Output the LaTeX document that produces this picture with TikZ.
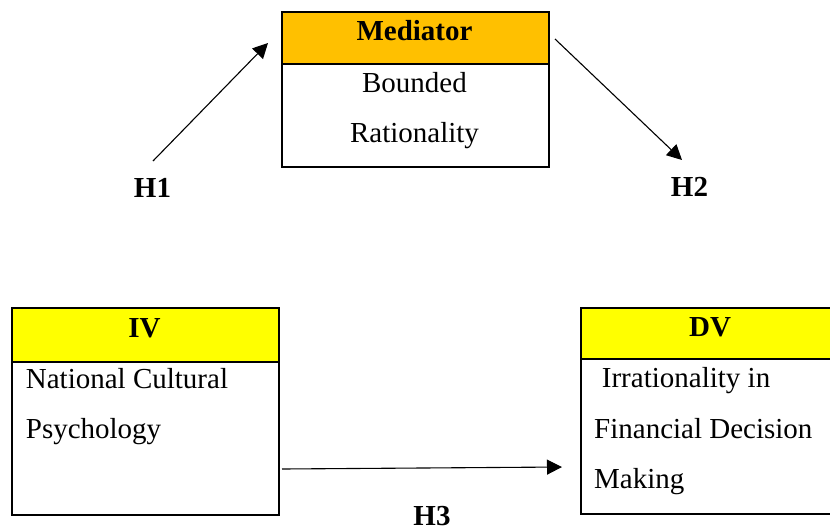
\documentclass[tikz,border=0pt]{standalone}
\usepackage{fontspec}
\setmainfont{Liberation Serif}
\usetikzlibrary{arrows.meta}
\definecolor{medorange}{HTML}{FFC000}
\definecolor{hdryellow}{HTML}{FFFF00}
\begin{document}
\begin{tikzpicture}[x=1pt,y=-1pt,
  box/.style={draw,line width=1.6pt,anchor=north west,inner sep=0pt},
  txt/.style={inner sep=0pt,font=\fontsize{29}{35}\selectfont},
  htxt/.style={inner sep=0pt,anchor=base,font=\fontsize{29}{35}\selectfont\bfseries},
  conn/.style={line width=1.1pt,-{Triangle[length=15pt,width=15pt]}}
]
\useasboundingbox (0,0) rectangle (830,531);
\begin{scope}
\clip (0,0) rectangle (830,531);
% Mediator
\node[box,minimum width=267pt,minimum height=155pt] (med) at (281,11) {};
\node[box,fill=medorange,minimum width=267pt,minimum height=52pt] (medh) at (281,11) {};
% IV
\node[box,minimum width=267pt,minimum height=207pt] (iv) at (11,307) {};
\node[box,fill=hdryellow,minimum width=267pt,minimum height=54pt] (ivh) at (11,307) {};
% DV
\node[box,minimum width=262pt,minimum height=206pt] (dv) at (580,307) {};
\node[box,fill=hdryellow,minimum width=262pt,minimum height=51pt] (dvh) at (580,307) {};
\end{scope}
% header texts
\node[htxt] (medt) at (414.5,40) {Mediator};
\node[htxt] (ivt) at (144.5,337) {IV};
\node[htxt] (dvt) at (710,336) {DV};
% body texts
\node[txt,anchor=base] (b1) at (414.5,92) {Bounded};
\node[txt,anchor=base] (b2) at (414.5,142) {Rationality};
\node[txt,anchor=base west] (n1) at (25.7,388) {National Cultural};
\node[txt,anchor=base west] (n2) at (25.7,438) {Psychology};
\node[txt,anchor=base west] (d1) at (601.7,387) {Irrationality in};
\node[txt,anchor=base west] (d2) at (594,438) {Financial Decision};
\node[txt,anchor=base west] (d3) at (594,488) {Making};
% hypothesis labels
\node[htxt] (h1) at (152.5,197) {H1};
\node[htxt] (h2) at (689.5,196) {H2};
\node[htxt] (h3) at (432,525) {H3};
% arrows
\coordinate (a1s) at (153,161);
\coordinate (a1e) at (268,43);
\coordinate (a2s) at (555,39);
\coordinate (a2e) at (682,160);
\coordinate (a3s) at (282,469);
\coordinate (a3e) at (562,467);
\draw[conn] (a1s) -- (a1e);
\draw[conn] (a2s) -- (a2e);
\draw[conn] (a3s) -- (a3e);
\end{tikzpicture}
\end{document}
